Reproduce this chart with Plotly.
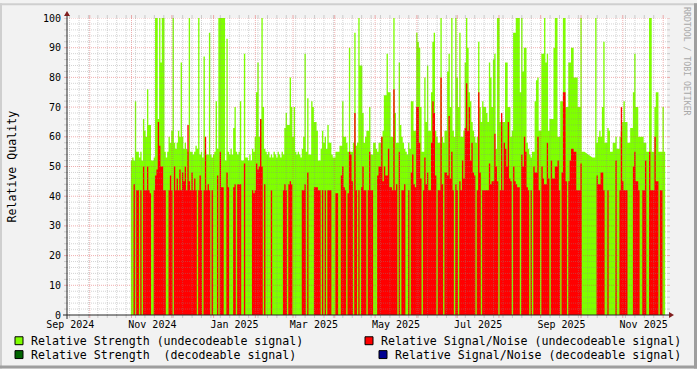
import pandas as pd
import plotly.graph_objects as go

# ---------------- data (one value per day, from 2024-10-31) ----------------
start_day = "2024-10-31 12:00"

strength_a = [
    52, 53, 52, 72, 55, 55, 53, 55, 52, 66, 62, 60, 76, 64, 64, 52, 52, 53, 100, 100,
    66, 100, 85, 100, 100, 55, 53, 55, 60, 58, 62, 100, 58, 56, 58, 62, 60, 85, 60, 56,
    58, 56, 55, 100, 55, 55, 54, 55, 57, 56, 100, 54, 55, 53, 87, 55, 54, 54, 95, 54,
    53, 54, 55, 72, 56, 100, 100, 100, 100, 100, 52, 93, 55, 54, 56, 54, 63, 70, 55, 54,
    55, 72, 52, 52, 88, 53, 53, 52, 54, 52, 56, 55, 60, 75, 85, 60, 66, 100, 70, 56,
    55, 54, 55, 53, 54, 53, 55, 54, 53, 55, 54, 53, 55, 54, 63, 68, 64, 64, 80, 70,
    60, 70, 55, 54, 55, 54, 53, 56, 60, 88, 55, 73, 54, 54, 72, 70, 65, 65, 62, 52,
    52, 56, 62, 58, 60, 56, 64, 58, 58, 54,
]
snr_a = [
    0, 0, 44, 0, 42, 42, 0, 42, 0, 50, 42, 42, 50, 42, 41, 0, 0, 42, 47, 49,
    65, 57, 50, 50, 42, 42, 0, 0, 42, 47, 42, 0, 50, 42, 46, 42, 49, 42, 48, 45,
    50, 42, 64, 45, 42, 48, 42, 46, 42, 0, 42, 47, 42, 0, 42, 60, 42, 44, 42, 0,
    42, 0, 0, 0, 47, 0, 55, 43, 43, 0, 0, 48, 43, 0, 0, 0, 43, 44, 0, 44,
    44, 44, 0, 0, 51, 0, 0, 0, 0, 0, 42, 41, 42, 51, 49, 50, 66, 50, 0, 44,
    0, 0, 0, 0, 42, 0, 0, 0, 0, 0, 0, 0, 0, 42, 44, 42, 0, 44, 45, 44,
    0, 0, 0, 0, 0, 0, 0, 42, 42, 44, 0, 48, 0, 0, 0, 0, 43, 43, 43, 42,
    42, 0, 42, 0, 42, 0, 42, 42, 42, 0,
]
strength_b = [
    53, 53, 55, 55, 55, 57, 57, 72, 60, 60, 58, 55, 90, 55, 55, 58, 95, 57, 58,
    100, 84, 84, 68, 58, 60, 62, 62, 70, 54, 54, 58, 58, 56, 55, 58, 58, 60, 62, 74,
    74, 88, 75, 75, 60, 60, 100, 68, 58, 58, 85, 64, 60, 58, 56, 55, 54, 58, 56,
    72, 72, 62, 62, 95, 92, 90, 70, 55, 55, 80, 65, 84, 62, 62, 75, 92, 95, 62, 60,
    58, 58, 100, 60, 58, 62, 62, 82, 88, 70, 100, 62, 60, 100, 80, 70, 95, 60, 60, 62,
    85, 100, 90, 75, 72, 65, 62, 60, 58, 60, 92, 70, 65, 72, 70, 70, 68, 65,
    85, 80, 70, 86, 88, 56, 100, 100, 65, 66, 65, 65, 85, 85, 70, 70, 60, 62, 95, 95,
    100, 100, 100, 75, 100, 82, 90, 90, 58, 56, 54, 53, 55, 55, 72, 79, 80, 62, 62, 88,
    88, 100, 85, 88, 62, 66, 66, 66, 90, 100, 100, 60, 60, 72, 72, 100, 100, 70, 70, 85,
    85, 90, 90, 80, 80, 80, 70, 70, 100, 55, 55,
]
snr_b = [
    0, 0, 41, 41, 0, 0, 47, 50, 43, 42, 0, 41, 55, 54, 45, 0, 68, 42, 0,
    42, 0, 43, 50, 42, 42, 0, 42, 55, 42, 42, 0, 0, 0, 47, 50, 50, 60, 45, 50,
    47, 47, 56, 43, 43, 42, 76, 42, 44, 0, 55, 0, 42, 42, 44, 0, 0, 42, 0,
    48, 54, 44, 43, 70, 70, 58, 46, 0, 42, 53, 44, 48, 42, 42, 58, 72, 68, 47, 0,
    42, 42, 80, 44, 0, 48, 48, 47, 67, 46, 55, 42, 0, 44, 42, 0, 45, 42, 52, 46,
    63, 78, 62, 70, 52, 58, 48, 47, 0, 42, 75, 48, 0, 42, 42, 42, 42, 42,
    51, 44, 45, 45, 61, 50, 45, 0, 42, 68, 42, 58, 56, 50, 65, 46, 45, 0, 50, 45,
    44, 43, 43, 0, 54, 50, 60, 55, 43, 42, 0, 42, 0, 50, 48, 48, 60, 42, 0, 50,
    46, 44, 44, 58, 46, 0, 52, 46, 46, 50, 50, 52, 42, 0, 48, 75, 75, 45, 0, 45,
    52, 56, 56, 55, 55, 42, 42, 42, 51, 0, 0,
]
gap_days = 6
strength_c = [
    53, 53, 100, 58, 60, 62, 60, 70, 92, 58, 58, 63, 62, 55, 55,
    58, 58, 60, 56, 56, 60, 62, 65, 72, 65, 65, 58, 58, 63, 63, 75, 88, 70, 70, 60,
    60, 60, 60, 58, 58, 55, 55, 100, 100, 55, 55, 70, 75, 75, 55, 55, 55, 70, 55,
]
snr_c = [
    0, 0, 0, 47, 44, 44, 48, 48, 42, 0, 0, 42, 0, 0, 0,
    0, 0, 52, 0, 0, 42, 70, 45, 42, 42, 42, 0, 0, 0, 0, 50, 55, 45, 45, 42,
    0, 0, 42, 42, 52, 0, 0, 55, 42, 42, 42, 60, 45, 45, 0, 42, 42, 0, 0,
]

strength = strength_a + strength_b + [None] * gap_days + strength_c
snr = snr_a + snr_b + [None] * gap_days + snr_c

x_range = ["2024-09-14 01:55", "2025-12-03 20:25"]
label_dates = ["2024-09-16 12:00", "2024-11-16 12:00", "2025-01-16 12:00", "2025-03-16 12:00",
               "2025-05-16 12:00", "2025-07-16 12:00", "2025-09-16 12:00", "2025-11-16 12:00"]
label_text = ["Sep 2024", "Nov 2024", "Jan 2025", "Mar 2025",
              "May 2025", "Jul 2025", "Sep 2025", "Nov 2025"]
y_ticks = list(range(0, 101, 10))

legend_left = [("Relative Strength (undecodeable signal)", "#7FFF00"),
               ("Relative Strength  (decodeable signal)", "#006400")]
legend_right = [("Relative Signal/Noise (undecodeable signal)", "#FF0000"),
                ("Relative Signal/Noise (decodeable signal)", "#000090")]

# ---------------- helpers ----------------
days = pd.date_range(start_day, periods=len(strength) + 1, freq="D")


def step_xy(vals):
    xs, ys = [], []
    prev = None
    for i, v in enumerate(vals):
        if v is None:
            if prev is not None:
                xs += [days[i], days[i]]
                ys += [prev, None]
        else:
            xs.append(days[i])
            ys.append(v)
        prev = v
    if prev is not None:
        xs.append(days[len(vals)])
        ys.append(prev)
    return xs, ys


def px(x):
    return (x - 67) / 600.0


def py(y):
    return (315 - y) / 300.0


MONO = "DejaVu Sans Mono"
fig = go.Figure()

gx, gy = step_xy(strength)
fig.add_trace(go.Scatter(x=gx, y=gy, mode="lines", line=dict(width=0, shape="hv"),
                         fill="tozeroy", fillcolor="#7FFF00", hoverinfo="skip",
                         name=legend_left[0][0]))
rx, ry = step_xy(snr)
fig.add_trace(go.Scatter(x=rx, y=ry, mode="lines", line=dict(width=0, shape="hv"),
                         fill="tozeroy", fillcolor="#FF0000", hoverinfo="skip",
                         name=legend_right[0][0]))

shapes = []
MINOR = "rgba(140,140,140,0.38)"
MAJOR = "rgba(222,79,79,0.45)"

# vertical grid
months = pd.date_range("2024-10-01", "2025-12-01", freq="MS")
weeks = [d for d in pd.date_range("2024-09-16", "2025-12-01", freq="7D") if d.day != 1]
for dates, col in ((weeks, MINOR), (months, MAJOR)):
    for d in dates:
        shapes.append(dict(type="line", xref="x", yref="paper", x0=d, x1=d, y0=0, y1=1,
                           line=dict(color=col, width=1, dash="1px,1px"), layer="above"))
        shapes.append(dict(type="line", xref="x", yref="paper", x0=d, x1=d, y0=py(315), y1=py(318),
                           line=dict(color=col, width=1), layer="above"))
        shapes.append(dict(type="line", xref="x", yref="paper", x0=d, x1=d, y0=py(15), y1=py(12),
                           line=dict(color=col, width=1), layer="above"))
# horizontal grid
for v in range(2, 101, 2):
    col = MAJOR if v % 10 == 0 else MINOR
    shapes.append(dict(type="line", xref="paper", yref="y", x0=0, x1=1, y0=v, y1=v,
                       line=dict(color=col, width=1, dash="1px,1px"), layer="above"))
    shapes.append(dict(type="line", xref="paper", yref="y", x0=px(64), x1=px(67), y0=v, y1=v,
                       line=dict(color=col, width=1), layer="above"))
    shapes.append(dict(type="line", xref="paper", yref="y", x0=px(667), x1=px(670), y0=v, y1=v,
                       line=dict(color=col, width=1), layer="above"))

# axes + arrows
AX = "#262626"
shapes.append(dict(type="line", xref="paper", yref="paper", x0=px(63), x1=px(671), y0=py(315), y1=py(315),
                   line=dict(color=AX, width=1), layer="above"))
shapes.append(dict(type="line", xref="paper", yref="paper", x0=px(67), x1=px(67), y0=py(319), y1=py(11),
                   line=dict(color=AX, width=1), layer="above"))
ARROW = "#801F1F"
shapes.append(dict(type="path", xref="paper", yref="paper",
                   path=f"M {px(669)},{py(312)} L {px(669)},{py(318)} L {px(674)},{py(315)} Z",
                   fillcolor=ARROW, line=dict(width=0), layer="above"))
shapes.append(dict(type="path", xref="paper", yref="paper",
                   path=f"M {px(64)},{py(13)} L {px(70)},{py(13)} L {px(67)},{py(8)} Z",
                   fillcolor=ARROW, line=dict(width=0), layer="above"))

# frame shading
for (x0, y0, x1, y1, c) in [(0, 0, 697, 2, "#CFCFCF"), (0, 0, 2, 369, "#CFCFCF"),
                            (694, 0, 697, 369, "#9E9E9E"), (0, 366, 697, 369, "#9E9E9E")]:
    shapes.append(dict(type="rect", xref="paper", yref="paper", x0=px(x0), x1=px(x1),
                       y0=py(y0), y1=py(y1), fillcolor=c, line=dict(width=0), layer="above"))

annotations = []
# legend
rows = [341, 355]
for i, (txt, col) in enumerate(legend_left):
    yc = rows[i]
    shapes.append(dict(type="rect", xref="paper", yref="paper", x0=px(15), x1=px(23),
                       y0=py(yc - 4), y1=py(yc + 4), fillcolor=col, line=dict(color="black", width=1)))
    annotations.append(dict(xref="paper", yref="paper", x=px(29), y=py(yc), text=txt, showarrow=False,
                            xanchor="left", yanchor="middle", font=dict(family=MONO, size=11.6, color="black")))
for i, (txt, col) in enumerate(legend_right):
    yc = rows[i]
    bx = 365 if i == 0 else 379
    shapes.append(dict(type="rect", xref="paper", yref="paper", x0=px(bx), x1=px(bx + 8),
                       y0=py(yc - 4), y1=py(yc + 4), fillcolor=col, line=dict(color="black", width=1)))
    annotations.append(dict(xref="paper", yref="paper", x=px(bx + 14), y=py(yc), text=txt, showarrow=False,
                            xanchor="left", yanchor="middle", font=dict(family=MONO, size=11.6, color="black")))

annotations.append(dict(xref="paper", yref="paper", x=px(11), y=0.5, text="Relative Quality",
                        textangle=-90, showarrow=False, xanchor="center", yanchor="middle",
                        font=dict(family=MONO, size=11.6, color="black")))
annotations.append(dict(xref="paper", yref="paper", x=px(687.5), y=py(59), text="RRDTOOL / TOBI OETIKER",
                        textangle=90, showarrow=False, xanchor="center", yanchor="middle",
                        font=dict(family=MONO, size=8.2, color="#A8A8A8")))

fig.update_layout(
    width=697, height=369,
    margin=dict(l=67, r=30, t=15, b=54, pad=0),
    paper_bgcolor="#F2F2F2", plot_bgcolor="white",
    showlegend=False,
    font=dict(family=MONO, size=10, color="black"),
    shapes=shapes, annotations=annotations,
    xaxis=dict(type="date", range=x_range, tickmode="array", tickvals=label_dates, ticktext=label_text,
               ticks="", showgrid=False, zeroline=False, showline=False, ticklabelstandoff=2,
               tickfont=dict(family=MONO, size=10, color="black")),
    yaxis=dict(range=[0, 100], tickmode="array", tickvals=y_ticks, ticks="", showgrid=False,
               zeroline=False, showline=False, ticklabelstandoff=5,
               tickfont=dict(family=MONO, size=10, color="black")),
)

fig.write_html("out.html", config={"displayModeBar": False},
               post_script="document.body.style.margin='0';document.body.style.overflow='hidden';")
